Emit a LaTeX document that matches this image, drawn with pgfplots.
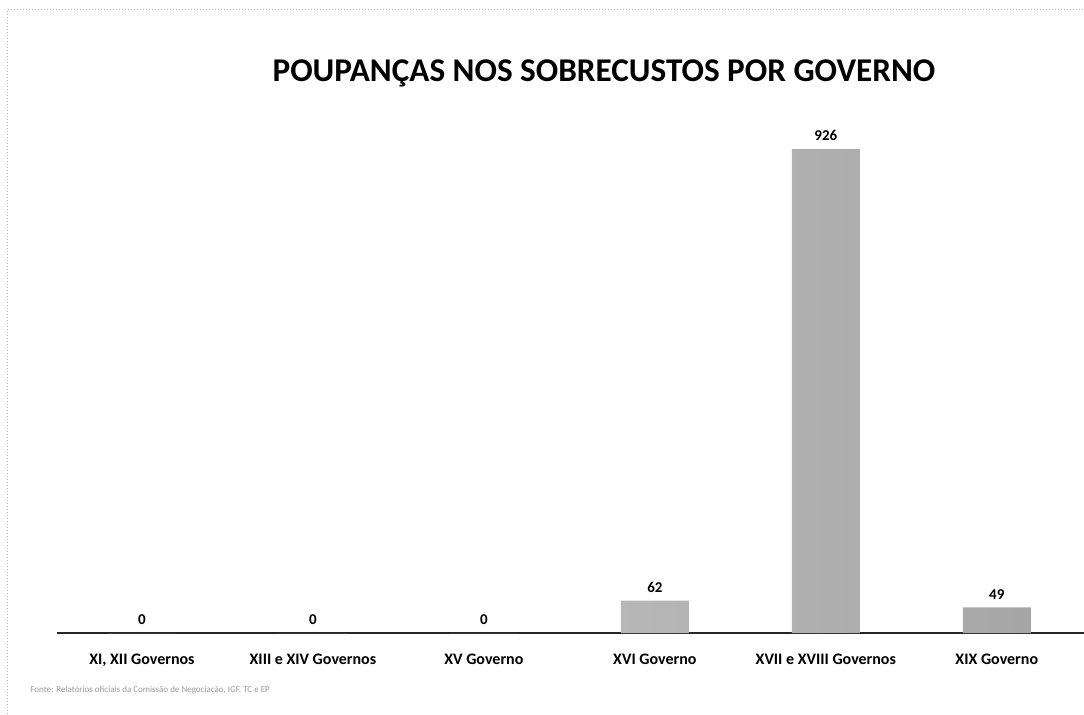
\documentclass[border=0pt]{standalone}
\usepackage{pgfplots}
\pgfplotsset{compat=1.18}
\usepackage{fontspec}
\setmainfont{Carlito}
\begin{document}
\begin{tikzpicture}
\useasboundingbox (0pt,0pt) rectangle (542pt,357pt);
\fill[white] (0pt,0pt) rectangle (542pt,357pt);
\draw[gray!60, densely dotted, line width=0.5pt] (3.5pt,0pt) -- (3.5pt,352pt) -- (542pt,352pt);
\node[font=\fontsize{16.6}{20}\selectfont\bfseries] at (302pt,320.5pt) {POUPANÇAS NOS SOBRECUSTOS POR GOVERNO};
\node[anchor=west, font=\fontsize{4.5}{5}\selectfont, text=gray!80, inner sep=0pt] at (15pt,12pt) {Fonte: Relatórios oficiais da Comissão de Negociação, IGF, TC e EP};
\begin{axis}[
  at={(28.5pt,40.5pt)}, anchor=south west,
  scale only axis, width=513.5pt, height=266.5pt,
  xmin=-0.497, xmax=5.51, ymin=0, ymax=1020,
  ybar, bar width=34pt,
  hide y axis,
  axis x line*=bottom,
  x axis line style={-, line width=0.6pt, black!85},
  xtick=data,
  xticklabels={{XI, XII Governos},{XIII e XIV Governos},{XV Governo},{XVI Governo},{XVII e XVIII Governos},{XIX Governo}},
  major tick length=0pt,
  xticklabel style={font=\fontsize{8}{9}\selectfont\bfseries, anchor=base, yshift=-15.5pt},
  nodes near coords,
  nodes near coords style={font=\fontsize{7.5}{9}\selectfont\bfseries, yshift=0.5pt},
  /pgf/number format/assume math mode=true,
  clip=false,
]
\addplot[draw=none, left color=gray!40, right color=gray!70] coordinates {(0,0) (1,0) (2,0) (3,62) (4,926) (5,49)};
\end{axis}
\end{tikzpicture}
\end{document}
